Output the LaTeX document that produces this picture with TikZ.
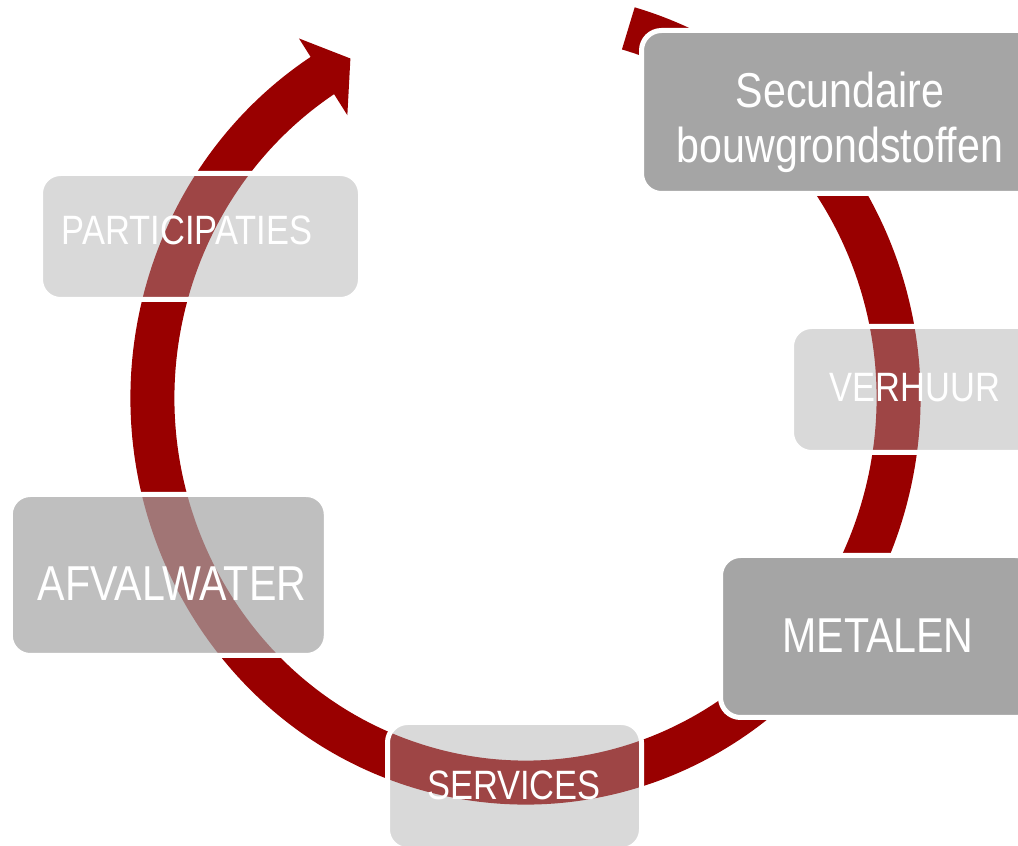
\documentclass[tikz,border=0pt]{standalone}
\usepackage{fontspec}
\setmainfont{Liberation Sans}[FakeStretch=0.84]
\usepackage{tikz}
\usetikzlibrary{positioning, calc}
\definecolor{arcred}{RGB}{153,0,0}
\definecolor{boxgray}{RGB}{165,165,165}
\tikzset{
  darkbox/.style={draw=white, line width=5pt, fill=boxgray, rounded corners=20pt,
    inner sep=0},
  lightbox/.style={darkbox, fill opacity=0.42},
  midbox/.style={darkbox, fill opacity=0.71},
  bigtext/.style={text=white, inner sep=0, font=\fontsize{49}{55}\selectfont,
    align=center},
  smalltext/.style={text=white, inner sep=0, font=\fontsize{41}{46}\selectfont,
    anchor=base}
}

\begin{document}
\begin{tikzpicture}[x=1pt, y=1pt]

\useasboundingbox (0,0) rectangle (1018,846);
\coordinate (c) at (525.5,448);

% ring with head
\draw[arcred, line width=44pt] ($(c)+(74:373pt and 384.5pt)$)
  arc[start angle=74, end angle=-238.5, x radius=373pt, y radius=384.5pt];
\fill[arcred] ($(c)+(123:415.9pt and 428.7pt)$) -- ($(c)+(118:373pt and 384.5pt)$)
  -- ($(c)+(123:327.1pt and 337.2pt)$) -- cycle;

% boxes
\node[lightbox, minimum width=320pt, minimum height=126pt] (part) at (200.5,609.5) {};
\node[midbox, minimum width=316pt, minimum height=161pt] (afval) at (168.3,271) {};
\node[lightbox, minimum width=254pt, minimum height=127pt] (serv) at (514.5,60) {};
\node[darkbox, minimum width=315pt, minimum height=162pt] (met) at (878,209.5) {};
\node[lightbox, minimum width=247pt, minimum height=126pt] (verh) at (915,456.5) {};
\node[darkbox, minimum width=397pt, minimum height=163pt] (sec) at (840,734) {};

% labels
\node[bigtext] (tsec) at (840,723.5) {Secundaire\\bouwgrondstoffen};
\node[smalltext] (tverh) at (915,444) {VERHUUR};
\node[bigtext, anchor=base] (tmet) at (878,193) {METALEN};
\node[smalltext] (tserv) at (514,46) {SERVICES};
\node[bigtext, anchor=base] (tafval) at (172,245.3) {AFVALWATER};
\node[smalltext] (tpart) at (187,601) {PARTICIPATIES};

\end{tikzpicture}
\end{document}
